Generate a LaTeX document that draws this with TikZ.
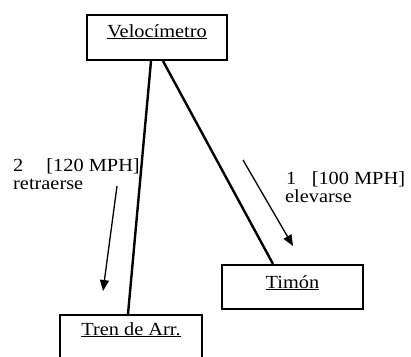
\documentclass[tikz,border=0pt]{standalone}
\usepackage{graphicx}
\usepackage{fontspec}
\setmainfont{Liberation Serif}
\usetikzlibrary{arrows.meta}

% slightly widened serif lettering
\newcommand\widetxt[1]{\scalebox{1.1}[1]{#1}}

\begin{document}
\begin{tikzpicture}[x=1pt,y=-1pt,
  boxnode/.style={draw=black, line width=2pt, rectangle, inner sep=0pt},
  txt/.style={inner sep=0pt, font=\fontsize{18.5}{19}\selectfont},
  link/.style={line width=2.4pt},
  move/.style={line width=1.3pt, -{Triangle[length=11pt,width=9pt]}}]
  \useasboundingbox (0,0) rectangle (411,356);
  \clip (0,0) rectangle (411,356);

  % boxes
  \node[boxnode, minimum width=140pt, minimum height=45pt] (vel) at (157,37.5) {};
  \node[boxnode, minimum width=141pt, minimum height=44pt] (tim) at (292.5,287) {};
  \node[boxnode, minimum width=142pt, minimum height=70pt] (tren) at (131,350) {};

  % box captions
  \node[txt, anchor=base] (velT) at (157,37) {\widetxt{\underline{Velocímetro}}};
  \node[txt, anchor=base] (timT) at (292.5,288) {\widetxt{\underline{Timón}}};
  \node[txt, anchor=base] (trenT) at (131,335) {\widetxt{\underline{Tren de Arr.}}};

  % links from the speedometer
  \draw[link] ([xshift=-6pt]vel.south) -- ([xshift=-3pt]tren.north);
  \draw[link] ([xshift=6pt]vel.south) -- ([xshift=-19.5pt]tim.north);

  % event arrows
  \coordinate (r0) at (117,186);
  \coordinate (r1) at (103,291);
  \coordinate (e0) at (243,160);
  \coordinate (e1) at (293,246);
  \draw[move] (r0) -- (r1);
  \draw[move] (e0) -- (e1);

  % event labels
  \node[txt, anchor=base west] (retA) at (13,171.5) {\widetxt{2\hspace{21pt}[120 MPH]}};
  \node[txt, anchor=base west] (retB) at (13,189) {\widetxt{retraerse}};
  \node[txt, anchor=base west] (eleA) at (286,184.5) {\widetxt{1\hspace{14pt}[100 MPH]}};
  \node[txt, anchor=base west] (eleB) at (285,202.5) {\widetxt{elevarse}};
\end{tikzpicture}
\end{document}
